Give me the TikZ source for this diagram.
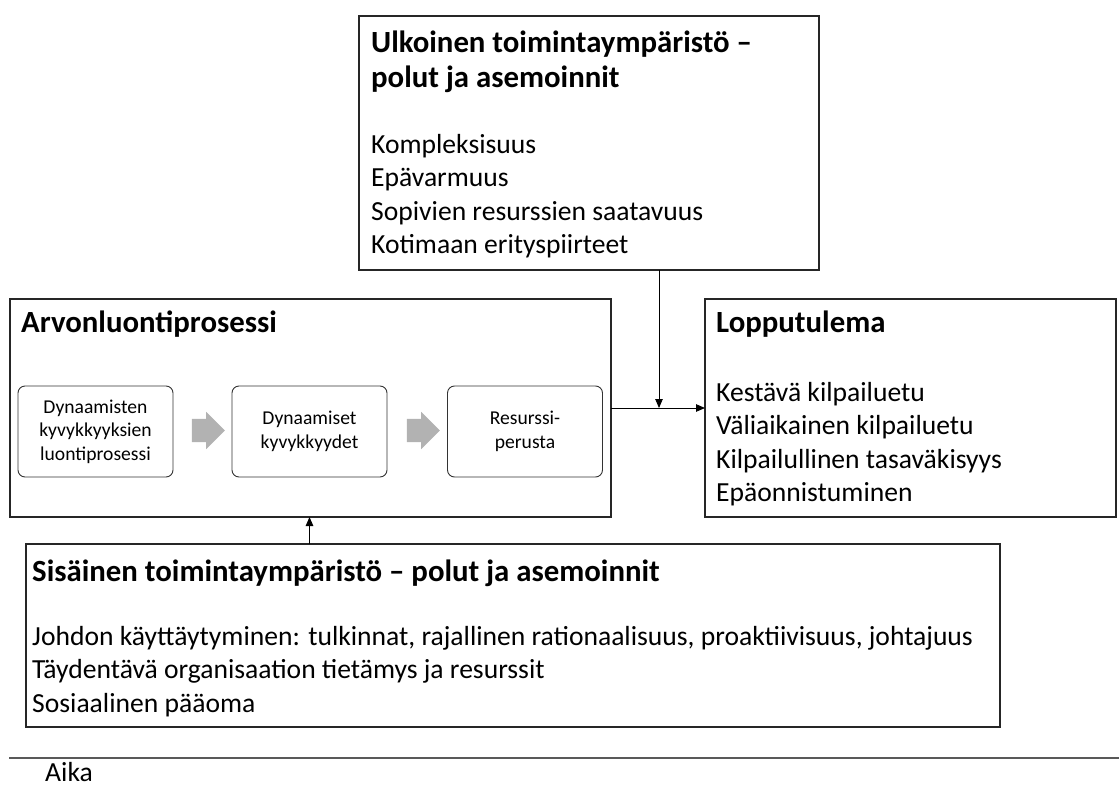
\documentclass[tikz,border=0pt]{standalone}
\usepackage{fontspec}
\setmainfont{Carlito}
\usetikzlibrary{arrows.meta,positioning,shapes.arrows}

\begin{document}
\begin{tikzpicture}[x=1pt,y=-1pt]
\tikzset{font=\fontsize{27.6}{33.5}\selectfont}
\tikzset{panel/.style={draw=black!85, line width=1.1pt, anchor=north west, inner sep=0pt, outer sep=0pt}}
\tikzset{heading/.style={anchor=base west, inner sep=0pt, font=\fontsize{30.8}{35}\selectfont\bfseries}}
\tikzset{item/.style={anchor=base west, inner sep=0pt}}
\tikzset{phase/.style={draw=black!80, line width=0.9pt, rounded corners=7pt, minimum width=155pt, minimum height=91pt, align=center, inner sep=2pt, font=\fontsize{19.6}{23.5}\selectfont}}
\tikzset{flow/.style={single arrow, fill=black!30, draw=none, minimum height=33pt, inner xsep=0pt, inner ysep=11.5pt, single arrow head extend=7pt, single arrow head indent=0pt}}
\tikzset{link/.style={line width=0.9pt, -{Triangle[length=9pt,width=7.5pt]}}}
\useasboundingbox (0,0) rectangle (1119,787);

% panels
\node[panel, minimum width=460pt, minimum height=254pt] (ulk) at (359,16) {};
\node[panel, minimum width=601pt, minimum height=218pt] (arvo) at (10,299) {};
\node[panel, minimum width=411pt, minimum height=218pt] (loppu) at (705,299) {};
\node[panel, minimum width=974pt, minimum height=183pt] (sis) at (26,544) {};

% external environment
\node[heading] (ulkT1) at (371,52) {Ulkoinen toimintaympäristö –};
\node[heading] (ulkT2) at (371,87) {polut ja asemoinnit};
\foreach \t [count=\i] in {Kompleksisuus, Epävarmuus, Sopivien resurssien saatavuus, Kotimaan erityspiirteet}
  \node[item] (ulk\i) at (371,119.5+33.5*\i) {\t};

% value creation
\node[heading] (arvoT) at (21,332) {Arvonluontiprosessi};
\node[phase] (ph1) at (95.5,431.5) {Dynaamisten\\kyvykkyyksien\\luontiprosessi};
\node[phase] (ph2) at (309.5,431.5) {Dynaamiset\\kyvykkyydet};
\node[phase] (ph3) at (525,431.5) {Resurssi-\\perusta};
\node[flow] (fl1) at (202.5,430.5) {};
\node[flow] (fl2) at (417.5,430.5) {};

% outcome
\node[heading] (loppuT) at (716,332) {Lopputulema};
\foreach \t [count=\i] in {Kestävä kilpailuetu, Väliaikainen kilpailuetu, Kilpailullinen tasaväkisyys, Epäonnistuminen}
  \node[item] (loppu\i) at (716,367.5+33.5*\i) {\t};

% internal environment
\node[heading] (sisT) at (32,581) {Sisäinen toimintaympäristö – polut ja asemoinnit};
\foreach \t [count=\i] in {{Johdon käyttäytyminen: tulkinnat, rajallinen rationaalisuus, proaktiivisuus, johtajuus}, Täydentävä organisaation tietämys ja resurssit, Sosiaalinen pääoma}
  \node[item] (sis\i) at (32,611.5+33.5*\i) {\t};

% connectors
\coordinate (join) at (659,408);
\draw[link] (arvo.east) -- (loppu.west);
\draw[link] (ulk.south -| join) -- (join);
\draw[link] (sis.north -| ph2) -- (arvo.south -| ph2);

% time line
\coordinate (tA) at (9,758);
\coordinate (tB) at (1119,758);
\draw[draw=black!65, line width=1.3pt] (tA) -- (tB);
\node[item] (aika) at (45,781) {Aika};
\end{tikzpicture}
\end{document}
